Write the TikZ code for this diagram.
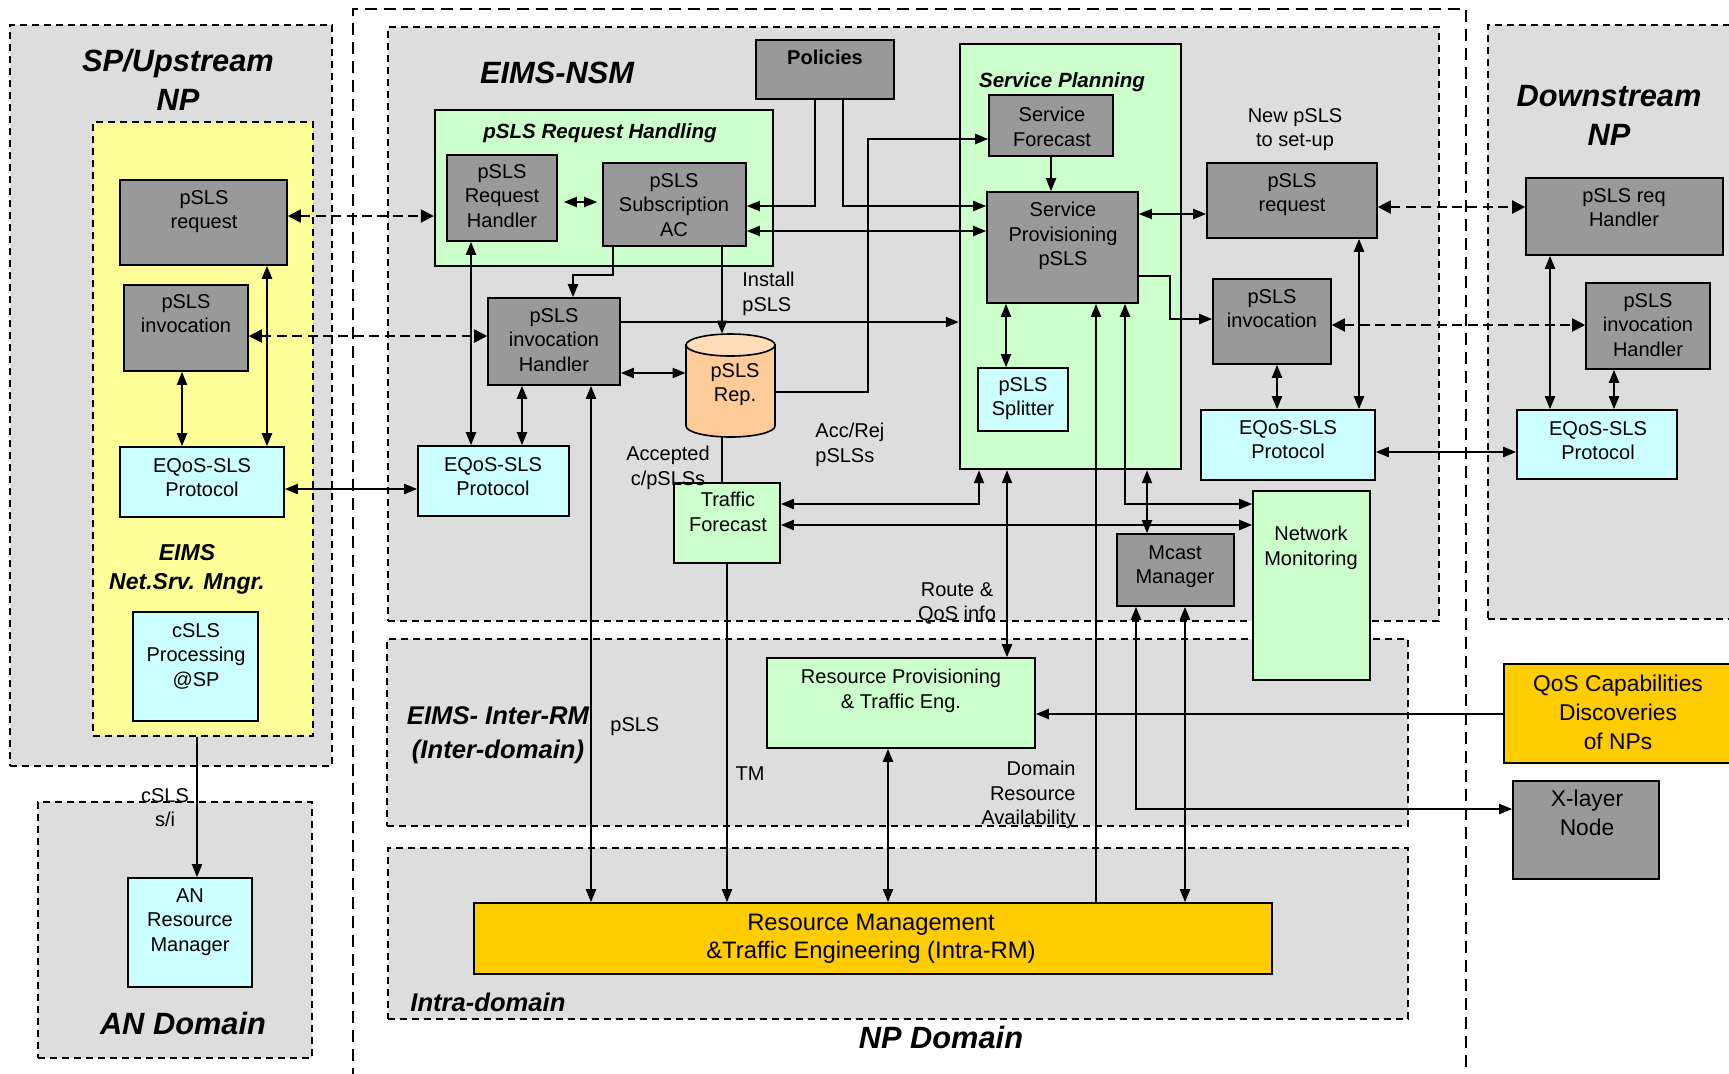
\documentclass[tikz,border=0pt]{standalone}
\usepackage{fontspec}
\setmainfont{Liberation Sans}
\usetikzlibrary{arrows.meta,fit}

\definecolor{regiongray}{HTML}{DDDDDD}
\definecolor{boxgray}{HTML}{999999}
\definecolor{palegreen}{HTML}{CCFFCC}
\definecolor{palecyan}{HTML}{CCFFFF}
\definecolor{paleyellow}{HTML}{FFFF99}
\definecolor{goldbox}{HTML}{FFCC00}
\definecolor{peach}{HTML}{FFCC99}
\definecolor{peachtop}{HTML}{FFDDB8}

\newcommand\boxtxt{\fontsize{10}{12.25}\selectfont}
\newcommand\bigttl{\fontsize{15.4}{19.5}\selectfont\bfseries\itshape}
\newcommand\subttl{\fontsize{10.3}{12.5}\selectfont\bfseries\itshape}
\newcommand\midttl{\fontsize{11.5}{14.5}\selectfont\bfseries\itshape}
\newcommand\zonettl{\fontsize{12.8}{17}\selectfont\bfseries\itshape}
\newcommand\largetxt{\fontsize{11.9}{14}\selectfont}
\newcommand\qostxt{\fontsize{11.4}{14.5}\selectfont}

\tikzset{
  region/.style={draw, fill=regiongray, line width=0.9pt, dash pattern=on 3.7pt off 2.3pt, inner sep=0pt},
  yellowzone/.style={region, fill=paleyellow},
  container/.style={draw, fill=palegreen, line width=1.2pt, inner sep=0pt},
  darkbox/.style={draw, fill=boxgray, line width=0.8pt, inner sep=0pt},
  greenbox/.style={draw, fill=palegreen, line width=0.8pt, inner sep=0pt},
  cyanbox/.style={draw, fill=palecyan, line width=0.8pt, inner sep=0pt},
  goldbox/.style={draw, fill=goldbox, line width=0.8pt, inner sep=0pt},
  tx/.style={inner sep=0pt, align=center, font=\boxtxt},
  conn/.style={line width=1pt},
  one/.style={conn, -{Triangle[length=6.5pt,width=5pt]}},
  dbl/.style={conn, {Triangle[length=6.5pt,width=5pt]}-{Triangle[length=6.5pt,width=5pt]}},
  darr/.style={line width=1pt, dash pattern=on 5pt off 2.7pt,
    {Triangle[length=6.5pt,width=6.5pt]}-{Triangle[length=6.5pt,width=6.5pt]}}
}

% a rectangle spanning two corners, named #1
\newcommand\blk[6]{\node[#2, fit={(#3,#4) (#5,#6)}] (#1) {};}

\begin{document}
\begin{tikzpicture}[x=0.5pt, y=-0.5pt]
\useasboundingbox (0,0) rectangle (1729,1073);

% ---------- domains and zones ----------
\blk{spreg}{region}{10}{25}{332}{766}
\blk{yellowreg}{yellowzone}{93}{122}{313}{736}
\blk{anreg}{region}{38}{802}{312}{1058}
\draw[line width=0.9pt, dash pattern=on 6pt off 3.5pt]
  (353,1080) -- (353,9) -- (1466,9) -- (1466,1080);
\blk{nsmreg}{region}{388}{27}{1439}{621}
\blk{interreg}{region}{387}{639}{1408}{826}
\blk{intrareg}{region}{388}{848}{1408}{1019}
\blk{downreg}{region}{1488}{25}{1750}{619}

% ---------- containers ----------
\blk{prh}{container}{435}{110}{773}{266}
\blk{sp}{container}{960}{44}{1181}{469}

% ---------- upstream blocks ----------
\blk{lreq}{darkbox}{120}{180}{287}{265}
\blk{linv}{darkbox}{124}{285}{248}{371}
\blk{leq}{cyanbox}{120}{447}{284}{517}
\blk{csls}{cyanbox}{133}{612}{258}{721}
\blk{an}{cyanbox}{128}{878}{252}{987}

% ---------- NSM blocks ----------
\blk{policies}{darkbox}{756}{40}{894}{99}
\blk{rh}{darkbox}{447}{155}{557}{241}
\blk{ac}{darkbox}{603}{163}{746}{246}
\blk{ih}{darkbox}{488}{298}{620}{385}
\blk{meq}{cyanbox}{418}{446}{569}{516}
\blk{tf}{greenbox}{674}{483}{780}{563}
\blk{sf}{darkbox}{989}{95}{1113}{156}
\blk{spp}{darkbox}{987}{192}{1138}{303}
\blk{spl}{cyanbox}{978}{368}{1068}{431}
\blk{rreq}{darkbox}{1207}{163}{1377}{238}
\blk{rinv}{darkbox}{1213}{279}{1331}{364}
\blk{req}{cyanbox}{1201}{410}{1375}{480}
\blk{nm}{greenbox}{1253}{491}{1370}{680}
\blk{mc}{darkbox}{1117}{534}{1234}{606}

% repository cylinder
\node[inner sep=0pt, fit={(686,334) (775,437)}] (rep) {};
\filldraw[fill=peach, line width=0.8pt] (686,345) -- (686,426)
  arc[start angle=180, end angle=0, x radius=44.5, y radius=11] -- (775,345) -- cycle;
\filldraw[fill=peachtop, line width=0.8pt] (730.5,345) ellipse [x radius=44.5, y radius=11];

% ---------- resource management ----------
\blk{rp}{greenbox}{767}{658}{1035}{748}
\blk{rm}{goldbox}{474}{903}{1272}{974}

% ---------- downstream and external ----------
\blk{dreq}{darkbox}{1526}{178}{1723}{255}
\blk{dinv}{darkbox}{1586}{283}{1710}{369}
\blk{deq}{cyanbox}{1517}{410}{1677}{479}
\blk{qos}{goldbox}{1504}{664}{1750}{763}
\blk{xl}{darkbox}{1513}{781}{1659}{879}

% ---------- signalling between providers ----------
\draw[darr] (lreq.east |- 0,216) -- (prh.west |- 0,216);
\draw[darr] (linv.east |- 0,336) -- (ih.west |- 0,336);
\draw[darr] (rreq.east |- 0,207) -- (dreq.west |- 0,207);
\draw[darr] (rinv.east |- 0,325) -- (dinv.west |- 0,325);

% ---------- upstream links ----------
\draw[dbl] (182,0 |- linv.south) -- (182,0 |- leq.north);
\draw[dbl] (267,0 |- lreq.south) -- (267,0 |- leq.north);
\draw[dbl] (leq.east |- 0,489) -- (meq.west |- 0,489);
\draw[one] (197,0 |- yellowreg.south) -- (197,0 |- an.north);

% ---------- NSM links ----------
\draw[dbl, shorten <=3pt, shorten >=2.5pt] (rh.east |- 0,202) -- (ac.west |- 0,202);
\draw[one] (815,0 |- policies.south) |- (ac.east |- 0,206);
\draw[one] (843,0 |- policies.south) |- (spp.west |- 0,206);
\draw[dbl] (ac.east |- 0,231) -- (spp.west |- 0,231);
\draw[one] (613,0 |- ac.south) -- (613,275) -| (573,0 |- ih.north);
\draw[one] (722,0 |- ac.south) -- (722,0 |- rep.north);
\draw[one] (ih.east |- 0,322) -- (sp.west |- 0,322);
\draw[dbl] (ih.east |- 0,373) -- (rep.west |- 0,373);
\draw[one] (rep.east |- 0,392) -- (868,392) |- (sf.west |- 0,139);
\draw[conn] (722,0 |- rep.south) -- (722,0 |- tf.north);
\draw[dbl] (471,0 |- rh.south) -- (471,0 |- meq.north);
\draw[dbl] (522,0 |- ih.south) -- (522,0 |- meq.north);
\draw[dbl] (591,0 |- ih.south) -- (591,0 |- rm.north);
\draw[one] (727,0 |- tf.south) -- (727,0 |- rm.north);

% ---------- service planning links ----------
\draw[one] (sf.south) -- (sf.south |- spp.north);
\draw[dbl] (spp.east |- 0,214) -- (rreq.west |- 0,214);
\draw[one] (spp.east |- 0,276) -- (1170,276) |- (rinv.west |- 0,319);
\draw[dbl] (1277,0 |- rinv.south) -- (1277,0 |- req.north);
\draw[dbl] (1359,0 |- rreq.south) -- (1359,0 |- req.north);
\draw[dbl] (req.east |- 0,452) -- (deq.west |- 0,452);
\draw[dbl] (1550,0 |- dreq.south) -- (1550,0 |- deq.north);
\draw[dbl] (1614,0 |- dinv.south) -- (1614,0 |- deq.north);
\draw[dbl] (1006,0 |- spp.south) -- (1006,0 |- spl.north);
\draw[one] (1096,0 |- rm.north) -- (1096,0 |- spp.south);
\draw[dbl] (1125,0 |- spp.south) |- (nm.west |- 0,504);
\draw[dbl] (tf.east |- 0,504) -| (979,0 |- sp.south);
\draw[dbl] (1007,0 |- sp.south) -- (1007,0 |- rp.north);
\draw[dbl] (1147,0 |- sp.south) -- (1147,0 |- mc.north);
\draw[dbl] (tf.east |- 0,525) -- (nm.west |- 0,525);
\draw[dbl] (1136,0 |- mc.south) |- (xl.west |- 0,809);
\draw[dbl] (1185,0 |- mc.south) -- (1185,0 |- rm.north);
\draw[one] (qos.west |- 0,714) -- (rp.east |- 0,714);
\draw[dbl] (888,0 |- rp.south) -- (888,0 |- rm.north);

% ---------- block texts ----------
\node[tx, anchor=north] (lreq-t) at (204,190) {pSLS\\request};
\node[tx, anchor=north] (linv-t) at (186,294) {pSLS\\invocation};
\node[tx, anchor=north] (leq-t) at (202,458) {EQoS-SLS\\Protocol};
\node[tx, anchor=north] (csls-t) at (196,623) {cSLS\\Processing\\@SP};
\node[tx, anchor=north] (an-t) at (190,888) {AN\\Resource\\Manager};
\node[tx, anchor=north, font=\boxtxt\bfseries] (policies-t) at (825,50) {Policies};
\node[tx, anchor=north, font=\subttl] (prh-t) at (600,123) {pSLS Request Handling};
\node[tx, anchor=north] (rh-t) at (502,164) {pSLS\\Request\\Handler};
\node[tx, anchor=north] (ac-t) at (674,173) {pSLS\\Subscription\\AC};
\node[tx, anchor=north] (ih-t) at (554,308) {pSLS\\invocation\\Handler};
\node[tx, anchor=north] (rep-t) at (735,363) {pSLS\\Rep.};
\node[tx, anchor=north] (meq-t) at (493,457) {EQoS-SLS\\Protocol};
\node[tx, anchor=north] (tf-t) at (728,492) {Traffic\\Forecast};
\node[tx, anchor=north, font=\subttl] (sp-t) at (1062,72) {Service Planning};
\node[tx, anchor=north] (sf-t) at (1052,107) {Service\\Forecast};
\node[tx, anchor=north] (spp-t) at (1063,202) {Service\\Provisioning\\pSLS};
\node[tx, anchor=north] (spl-t) at (1023,377) {pSLS\\Splitter};
\node[tx, anchor=north] (rreq-t) at (1292,173) {pSLS\\request};
\node[tx, anchor=north] (rinv-t) at (1272,289) {pSLS\\invocation};
\node[tx, anchor=north] (req-t) at (1288,420) {EQoS-SLS\\Protocol};
\node[tx, anchor=north] (nm-t) at (1311,526) {Network\\Monitoring};
\node[tx, anchor=north] (mc-t) at (1175,545) {Mcast\\Manager};
\node[tx, anchor=north] (rp-t) at (901,669) {Resource Provisioning\\\& Traffic Eng.};
\node[tx, anchor=north, font=\largetxt] (rm-t) at (871,914) {Resource Management\\\&Traffic Engineering (Intra-RM)};
\node[tx, anchor=north, font=\qostxt] (qos-t) at (1618,675) {QoS Capabilities\\Discoveries\\of NPs};
\node[tx, anchor=north, font=\qostxt] (xl-t) at (1587,790) {X-layer\\Node};
\node[tx, anchor=north] (dreq-t) at (1624,188) {pSLS req\\Handler};
\node[tx, anchor=north] (dinv-t) at (1648,293) {pSLS\\invocation\\Handler};
\node[tx, anchor=north] (deq-t) at (1598,421) {EQoS-SLS\\Protocol};

% ---------- zone titles ----------
\node[tx, anchor=north, font=\bigttl] (spreg-t) at (178,49) {SP/Upstream\\NP};
\node[tx, anchor=north, font=\midttl] (yellowreg-t) at (187,544) {EIMS\\Net.Srv. Mngr.};
\node[tx, anchor=north, font=\bigttl] (anreg-t) at (183,1012) {AN Domain};
\node[tx, anchor=north, font=\bigttl] (nsmreg-t) at (557,62) {EIMS-NSM};
\node[tx, anchor=north, font=\zonettl] (interreg-t) at (498,706) {EIMS- Inter-RM\\(Inter-domain)};
\node[tx, anchor=north west, font=\zonettl] (intrareg-t) at (410,993) {Intra-domain};
\node[tx, anchor=north, font=\bigttl] (npreg-t) at (941,1026) {NP Domain};
\node[tx, anchor=north, font=\bigttl] (downreg-t) at (1609,85) {Downstream\\NP};

% ---------- connector labels ----------
\node[tx, anchor=north] (csls-l) at (165,788) {cSLS\\s/i};
\node[tx, anchor=north west, align=left] (install-l) at (742,272) {Install\\pSLS};
\node[tx, anchor=north] (accepted-l) at (668,446) {Accepted\\c/pSLSs};
\node[tx, anchor=north west, align=left] (accrej-l) at (815,423) {Acc/Rej\\pSLSs};
\node[tx, anchor=north] (newpsls-l) at (1295,108) {New pSLS\\to set-up};
\node[tx, anchor=north] (route-l) at (957,582) {Route \&\\QoS info};
\node[tx, anchor=north east, align=right] (avail-l) at (1076,761) {Domain\\Resource\\Availability};
\node[tx, anchor=north west] (psls-l) at (610,717) {pSLS};
\node[tx, anchor=north] (tm-l) at (750,766) {TM};
\end{tikzpicture}
\end{document}
